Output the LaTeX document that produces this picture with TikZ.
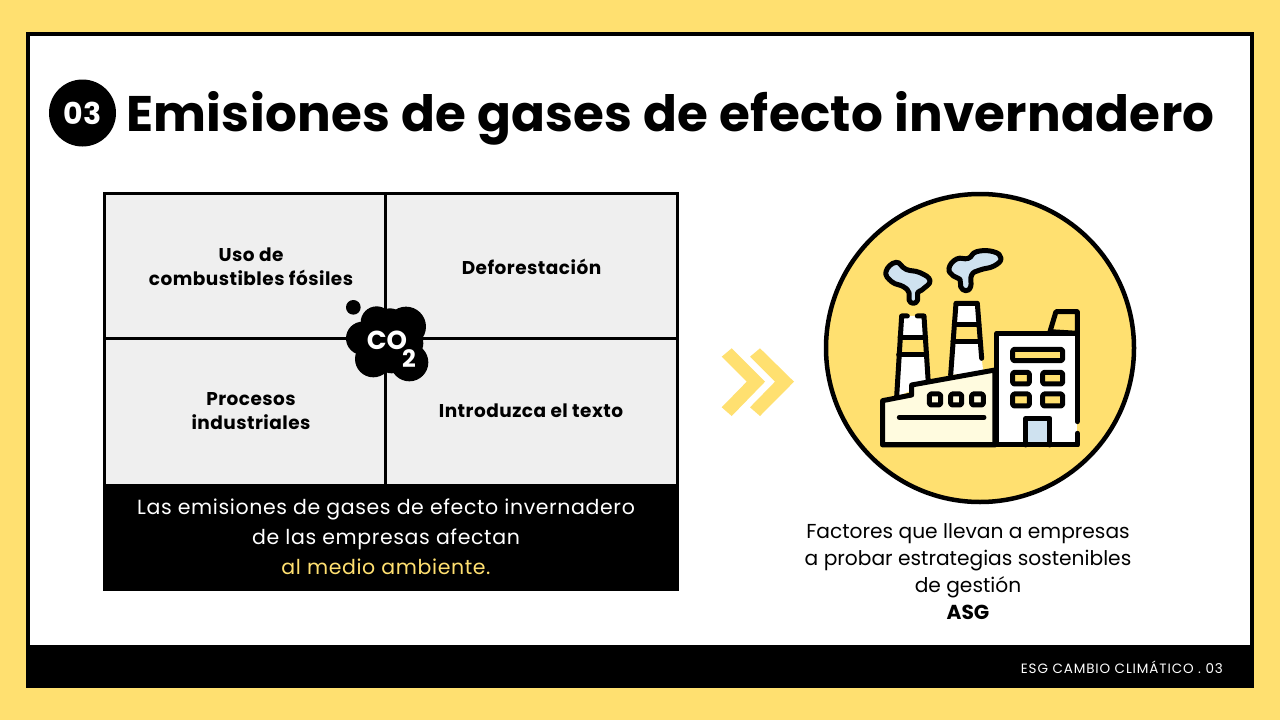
\documentclass[tikz,border=0pt]{standalone}
\usepackage{fontspec}
\setmainfont{Poppins}
\definecolor{sunyellow}{HTML}{FFE070}
\definecolor{cellgrey}{HTML}{EFEFEF}
\definecolor{smokeblue}{HTML}{CFE2F0}
\definecolor{wallcream}{HTML}{FFFBDF}
\tikzset{
  cell/.style={draw=black,line width=3.5pt,fill=cellgrey},
  celltext/.style={align=center,inner sep=0pt,font=\fontsize{18.5}{24}\selectfont\bfseries\addfontfeatures{LetterSpace=2.5}},
  caption/.style={align=center,inner sep=0pt,font=\fontsize{20.5}{30}\selectfont\addfontfeatures{LetterSpace=3}},
  reasontext/.style={align=center,inner sep=0pt,font=\fontsize{20.2}{27}\selectfont},
  icon/.style={draw=black,line width=5pt,line join=round,line cap=round},
  win/.style={icon,fill=sunyellow,rounded corners=1.5pt}
}
\begin{document}
\begin{tikzpicture}[x=1pt,y=-1pt]
     \useasboundingbox (0,0) rectangle (1280,720);
     \fill[sunyellow] (0,0) rectangle (1280,720);
     \draw[line width=4pt,fill=white] (28,34) rectangle (1252,686);
     \fill[black] (26,645) rectangle (1254,688);
     \node[text=white,anchor=east,inner sep=0pt,font=\fontsize{13.5}{16}\selectfont\addfontfeatures{LetterSpace=6.5}] (footer) at (1223,667) {ESG CAMBIO CLIMÁTICO . 03};

     \node[circle,fill=black,text=white,minimum size=67pt,inner sep=0pt,font=\fontsize{30}{32}\selectfont\bfseries] (badge) at (82.5,113) {03};
     \node[anchor=west,inner sep=0pt,font=\fontsize{50}{56}\selectfont\bfseries\addfontfeatures{LetterSpace=0.6}] (title) at (126,118) {Emisiones de gases de efecto invernadero};

     \draw[cell] (104.5,193.5) rectangle (385.5,338.5);
     \draw[cell] (385.5,193.5) rectangle (677.5,338.5);
     \draw[cell] (104.5,338.5) rectangle (385.5,486);
     \draw[cell] (385.5,338.5) rectangle (677.5,486);
     \node[celltext] (fossil) at (251,267) {Uso de\\combustibles fósiles};
     \node[celltext] (forest) at (531.5,267) {Deforestación};
     \node[celltext] (process) at (251,411) {Procesos\\industriales};
     \node[celltext] (input) at (531,411) {Introduzca el texto};

     \fill[black] (103,486) rectangle (679,591);
     \node[caption,text=white] (note) at (386,537) {Las emisiones de gases de efecto invernadero\\de las empresas afectan\\\textcolor{sunyellow}{al medio ambiente.}};

     \begin{scope}[shift={(330,285)},x=0.3333pt,y=-0.3333pt]
       \fill[black] (70,67) circle (22);
       \fill[black] (140,112) circle (48);
       \fill[black] (228,125) circle (60);
       \fill[black] (98,160) circle (50);
       \fill[black] (130,222) circle (55);
       \fill[black] (238,232) circle (57);
       \fill[black] (170,170) circle (60);
       \fill[black] (180,115) circle (45);
       \fill[black] (185,215) circle (50);
       \fill[black] (235,175) circle (45);
     \end{scope}
     \node[text=white,inner sep=0pt,font=\fontsize{26}{28}\selectfont\bfseries] (co) at (387,340) {CO};
     \node[text=white,inner sep=0pt,font=\fontsize{24}{26}\selectfont\bfseries] (two) at (409,359) {2};

     \fill[sunyellow] (721.7,356.7) -- (731.7,348.3) -- (765,381.7) -- (731.7,416) -- (721.7,407.3) -- (746.7,381.7) -- cycle;
     \fill[sunyellow] (750,356.7) -- (760,348.3) -- (794,381.7) -- (760,416) -- (750,407.3) -- (775,381.7) -- cycle;

     \node[circle,draw=black,line width=4.5pt,fill=sunyellow,minimum size=308pt,inner sep=0pt] (round) at (980,348) {};

     \begin{scope}[shift={(820,190)},x=0.3333pt,y=-0.3333pt]
       \fill[white] (230,620) -- (245,378) -- (312,378) -- (325,580) -- cycle;
       \fill[sunyellow] (240,442) -- (317,442) -- (320,495) -- (236,495) -- cycle;
       \draw[icon] (240,442) -- (317,442) (236,495) -- (320,495);
       \draw[icon] (262,378) -- (245,378) -- (230,620) (292,378) -- (312,378) -- (325,580);
       \fill[white] (392,555) -- (408,340) -- (472,340) -- (485,505) -- (490,545) -- cycle;
       \fill[sunyellow] (403,405) -- (477,405) -- (481,455) -- (399,455) -- cycle;
       \draw[icon] (403,405) -- (477,405) (399,455) -- (481,455);
       \draw[icon] (392,555) -- (408,340) -- (472,340) -- (485,505);
       \draw[icon,fill=wallcream] (188,765) -- (188,632) -- (275,615) -- (275,585) -- (525,540) -- (525,765) -- cycle;
       \draw[icon,fill=sunyellow] (690,425) -- (708,365) -- (772,365) -- (772,430) -- cycle;
       \fill[white] (530,430) rectangle (772,765);
       \draw[icon] (772,695) -- (772,430) -- (530,430) -- (530,765) -- (772,765) -- (772,730);
       \draw[win] (578,478) rectangle (728,512);
       \draw[win] (578,547) rectangle (628,582);
       \draw[win] (668,547) rectangle (728,582);
       \draw[win] (578,612) rectangle (628,648);
       \draw[win] (668,612) rectangle (728,648);
       \draw[win,fill=wallcream] (328,612) rectangle (362,645);
       \draw[win,fill=wallcream] (392,612) rectangle (425,645);
       \draw[win,fill=wallcream] (455,612) rectangle (490,645);
       \draw[icon] (238,682) -- (492,682);
       \draw[icon,fill=smokeblue] (618,765) -- (618,685) -- (690,685) -- (690,765);
       \draw[icon] (188,765) -- (772,765);
       \draw[icon,fill=smokeblue] plot[smooth cycle,tension=0.8] coordinates {(198,245) (228,217) (258,238) (300,248) (330,272) (308,298) (293,308) (293,330) (280,340) (267,330) (267,308) (250,290) (215,275)};
       \draw[icon,fill=smokeblue] plot[smooth cycle,tension=0.8] coordinates {(387,235) (410,207) (445,205) (470,185) (520,185) (543,205) (522,228) (480,240) (455,255) (452,290) (437,302) (422,290) (420,268) (400,258)};
     \end{scope}

     \node[reasontext] (reason) at (968,571.5) {Factores que llevan a empresas\\a probar estrategias sostenibles\\de gestión\\\textbf{ASG}};
    \end{tikzpicture}
\end{document}
